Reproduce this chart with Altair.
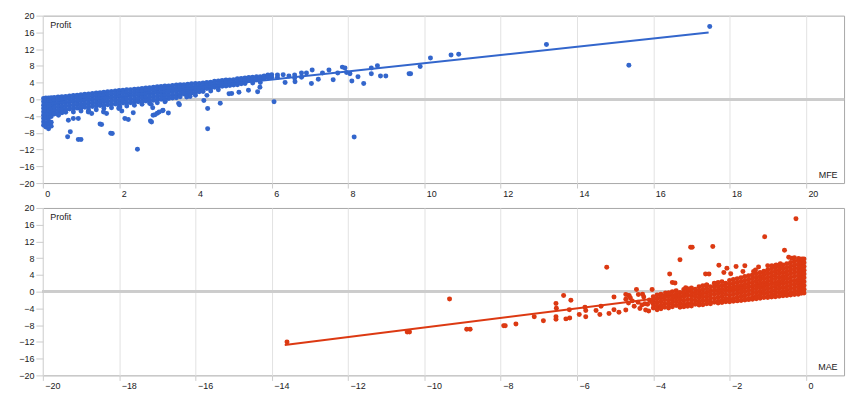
import altair as alt
import pandas as pd

# ---------------- top panel: MFE vs Profit ----------------
# dense cloud, read column by column (MFE value, list of Profit values)
mfe_cloud = [
    (0.02, [0.2, -0.6, -1.4, -2.2, -3.0, -3.8, -4.6, -5.4, -6.2]),
    (0.08, [0.3, -0.5, -1.3, -2.1, -2.9, -3.7, -4.5, -5.6, -6.6]),
    (0.15, [0.35, -0.4, -1.2, -2.0, -2.8, -3.6, -4.4, -5.2, -6.0, -7.0]),
    (0.22, [0.4, -0.5, -1.4, -2.3, -3.2, -4.1, -5.5, -6.4]),
    (0.30, [0.45, -0.3, -1.1, -1.9, -2.7, -3.5]),
    (0.40, [0.55, -0.2, -1.0, -1.8, -2.6, -3.4]),
    (0.50, [0.6, -0.1, -0.9, -1.7, -2.5, -3.2]),
    (0.60, [0.7, 0.0, -0.8, -1.6, -2.4, -3.1]),
    (0.70, [0.8, 0.1, -0.7, -1.5, -2.3]),
    (0.80, [0.9, 0.2, -0.6, -1.4, -2.2, -3.0]),
    (0.90, [1.0, 0.3, -0.5, -1.3, -2.1]),
    (1.00, [1.1, 0.4, -0.4, -1.2, -2.0, -2.8]),
    (1.10, [1.2, 0.5, -0.3, -1.1, -1.9]),
    (1.20, [1.3, 0.6, -0.2, -1.0, -1.8, -2.6]),
    (1.30, [1.4, 0.7, -0.1, -0.9, -1.7]),
    (1.40, [1.5, 0.8, 0.0, -0.8, -1.6, -2.5]),
    (1.50, [1.6, 0.9, 0.1, -0.7, -1.5]),
    (1.60, [1.7, 1.0, 0.2, -0.6, -1.4, -2.2]),
    (1.70, [1.8, 1.1, 0.3, -0.5, -1.3]),
    (1.80, [1.9, 1.2, 0.4, -0.4, -1.2, -2.0]),
    (1.90, [2.0, 1.3, 0.5, -0.3, -1.1]),
    (2.00, [2.1, 1.4, 0.6, -0.2, -1.0, -1.8]),
    (2.10, [2.2, 1.5, 0.7, -0.1, -0.9]),
    (2.20, [2.3, 1.6, 0.8, 0.0, -0.8, -1.6]),
    (2.30, [2.3, 1.6, 0.8, 0.0, -0.8]),
    (2.40, [2.4, 1.7, 0.9, 0.1, -0.7, -1.4]),
    (2.50, [2.5, 1.8, 1.0, 0.2, -0.6]),
    (2.60, [2.6, 1.9, 1.1, 0.3, -0.5, -1.2]),
    (2.70, [2.7, 2.0, 1.2, 0.4, -0.4]),
    (2.80, [2.8, 2.1, 1.3, 0.5, -0.3, -1.0]),
    (2.90, [2.9, 2.2, 1.4, 0.6, -0.2]),
    (3.00, [3.0, 2.3, 1.5, 0.7, -0.1, -0.8]),
    (3.10, [3.1, 2.4, 1.6, 0.8, 0.0]),
    (3.20, [3.2, 2.5, 1.7, 0.9, 0.1, -0.6]),
    (3.30, [3.2, 2.5, 1.7, 0.9, 0.2]),
    (3.40, [3.3, 2.6, 1.8, 1.0, 0.3]),
    (3.50, [3.4, 2.7, 1.9, 1.1, 0.4]),
    (3.60, [3.5, 2.8, 2.0, 1.2, 0.6]),
    (3.70, [3.5, 2.8, 2.0, 1.3]),
    (3.80, [3.6, 2.9, 2.1, 1.4, 0.8]),
    (3.90, [3.7, 3.0, 2.2, 1.5]),
    (4.00, [3.8, 3.1, 2.3, 1.6, 1.0]),
    (4.10, [3.8, 3.1, 2.4, 1.8]),
    (4.20, [3.9, 3.2, 2.5, 1.9]),
    (4.30, [4.0, 3.3, 2.6]),
    (4.40, [4.1, 3.4, 2.7, 2.0]),
    (4.50, [4.3, 3.6, 2.9]),
    (4.60, [4.4, 3.7, 3.0, 2.3]),
    (4.70, [4.5, 3.8, 3.1]),
    (4.80, [4.6, 3.9, 3.2]),
    (4.90, [4.6, 3.9, 3.3]),
    (5.00, [4.7, 4.0, 3.4]),
    (5.10, [4.9, 4.2, 3.5]),
    (5.20, [5.0, 4.3, 3.7]),
    (5.30, [5.1, 4.4, 3.8]),
    (5.40, [5.2, 4.5]),
    (5.50, [5.3, 4.6, 3.9]),
    (5.60, [5.4, 4.7]),
    (5.70, [5.4, 4.8]),
    (5.80, [5.6, 5.0]),
    (5.90, [5.8, 5.2]),
    (6.00, [5.9, 5.3]),
    (6.15, [5.8, 5.2]),
    (6.30, [5.9]),
    (6.45, [5.6]),
    (6.60, [5.8, 5.1]),
]
mfe_outlier_x = [17.48, 15.36, 13.2, 10.7, 10.9, 10.16, 9.89, 9.64, 9.6, 8.99, 8.85, 8.77,
                 8.61, 8.61, 8.41, 8.26, 8.1, 8.16, 8.05, 7.96, 7.85, 7.92, 7.73, 7.61, 7.5,
                 7.33, 7.22, 7.06, 7.04, 6.91, 6.78, 6.78, 6.06, 4.32, 4.32, 4.22, 4.65, 4.3,
                 4.88, 4.95, 5.14, 5.39, 5.63, 5.69, 5.7, 6.35, 6.61, 3.29, 3.15, 3.56, 3.86,
                 3.21, 3.58, 3.77, 0.72, 0.65, 0.93, 1.0, 1.54, 1.5, 1.82, 1.78, 2.48, 2.15,
                 2.24, 2.37, 2.85, 2.82, 2.89, 3.0, 3.05, 1.19, 1.28, 1.59, 1.67, 0.67, 0.8,
                 0.93, 0.41, 2.02, 2.07, 2.84, 2.88, 1.99, 2.94, 3.14]
mfe_outlier_profit = [17.4, 8.15, 13.1, 10.6, 10.76, 9.9, 7.84, 6.1, 6.1, 5.6, 5.6, 8.0,
                      7.5, 6.1, 3.8, 5.4, 4.4, -9.0, 6.1, 6.4, 7.7, 7.5, 6.3, 4.7, 7.0,
                      6.3, 4.8, 7.0, 3.8, 6.3, 6.3, 5.3, -0.55, -7.05, -2.2, -0.3, -0.95, 0.95,
                      1.35, 1.4, 1.7, 2.2, 1.8, 2.9, 4.0, 4.0, 4.2, -3.25, -2.6, -1.0, 0.7,
                      -0.4, -1.3, 0.55, -7.75, -8.95, -9.6, -9.6, -6.0, -5.9, -8.15, -8.1, -11.95, -4.6,
                      -4.8, -3.2, -5.4, -5.2, -3.8, -3.3, -3.0, -3.0, -3.4, -3.0, -3.4, -5.0, -4.6,
                      -4.6, -3.8, -1.8, -2.8, -1.2, -2.0, -2.2, -3.7, -2.7]
mfe_trend_x = [0.0, 17.45]
mfe_trend_profit = [-1.15, 15.95]

# ---------------- bottom panel: MAE vs Profit ----------------
mae_cloud = [
    (-4.00, [-1.2, -2.1, -3.0, -3.9]),
    (-3.90, [-0.8, -1.7, -2.6, -3.5, -4.3]),
    (-3.80, [-0.6, -1.5, -2.4, -3.3, -4.1]),
    (-3.70, [-1.0, -1.9, -2.8, -3.7]),
    (-3.60, [-0.3, -1.2, -2.1, -3.0, -3.9]),
    (-3.50, [0.0, -0.9, -1.8, -2.7, -3.6]),
    (-3.40, [0.2, -0.6, -1.5, -2.4, -3.3]),
    (-3.30, [-0.2, -1.1, -2.0, -2.9, -3.7]),
    (-3.20, [0.5, -0.3, -1.2, -2.1, -3.0, -3.6]),
    (-3.10, [0.7, -0.1, -1.0, -1.9, -2.8, -3.5]),
    (-3.00, [0.9, 0.0, -0.9, -1.8, -2.7, -3.4]),
    (-2.90, [0.6, -0.3, -1.2, -2.1, -3.0]),
    (-2.80, [1.2, 0.3, -0.6, -1.5, -2.4, -3.2]),
    (-2.70, [1.4, 0.5, -0.4, -1.3, -2.2, -3.1]),
    (-2.60, [1.6, 0.7, -0.2, -1.1, -2.0, -2.9]),
    (-2.50, [1.2, 0.3, -0.6, -1.5, -2.4, -2.9]),
    (-2.40, [2.0, 1.1, 0.2, -0.7, -1.6, -2.5]),
    (-2.30, [2.2, 1.3, 0.4, -0.5, -1.4, -2.3, -2.7]),
    (-2.20, [2.4, 1.5, 0.6, -0.3, -1.2, -2.1, -2.6]),
    (-2.10, [2.0, 1.1, 0.2, -0.7, -1.6, -2.4]),
    (-2.00, [2.7, 1.8, 0.9, 0.0, -0.9, -1.8, -2.4]),
    (-1.90, [2.9, 2.0, 1.1, 0.2, -0.7, -1.6, -2.3]),
    (-1.80, [3.1, 2.2, 1.3, 0.4, -0.5, -1.4, -2.2]),
    (-1.70, [3.3, 2.4, 1.5, 0.6, -0.3, -1.2, -2.1]),
    (-1.60, [3.6, 2.7, 1.8, 0.9, 0.0, -0.9, -1.8, -2.0]),
    (-1.50, [3.8, 2.9, 2.0, 1.1, 0.2, -0.7, -1.6, -1.9]),
    (-1.40, [4.0, 3.1, 2.2, 1.3, 0.4, -0.5, -1.4, -1.8]),
    (-1.30, [4.3, 3.4, 2.5, 1.6, 0.7, -0.2, -1.1, -1.7]),
    (-1.20, [4.6, 3.7, 2.8, 1.9, 1.0, 0.1, -0.8, -1.6]),
    (-1.10, [4.9, 4.0, 3.1, 2.2, 1.3, 0.4, -0.5, -1.4]),
    (-1.00, [5.2, 4.3, 3.4, 2.5, 1.6, 0.7, -0.2, -1.1, -1.4]),
    (-0.90, [5.5, 4.6, 3.7, 2.8, 1.9, 1.0, 0.1, -0.8, -1.3]),
    (-0.80, [5.8, 4.9, 4.0, 3.1, 2.2, 1.3, 0.4, -0.5, -1.2]),
    (-0.70, [6.1, 5.2, 4.3, 3.4, 2.5, 1.6, 0.7, -0.2, -1.1]),
    (-0.60, [6.4, 5.5, 4.6, 3.7, 2.8, 1.9, 1.0, 0.1, -0.8, -1.0]),
    (-0.50, [6.7, 5.8, 4.9, 4.0, 3.1, 2.2, 1.3, 0.4, -0.5, -0.9]),
    (-0.40, [7.0, 6.1, 5.2, 4.3, 3.4, 2.5, 1.6, 0.7, -0.2, -0.8]),
    (-0.30, [7.2, 6.3, 5.4, 4.5, 3.6, 2.7, 1.8, 0.9, 0.0, -0.7]),
    (-0.20, [7.4, 6.5, 5.6, 4.7, 3.8, 2.9, 2.0, 1.1, 0.2, -0.6]),
    (-0.12, [7.7, 6.8, 5.9, 5.0, 4.1, 3.2, 2.3, 1.4, 0.5, -0.4]),
    (-0.05, [7.8, 6.9, 6.0, 5.1, 4.2, 3.3, 2.4, 1.5, 0.6, -0.3]),
]
mae_outlier_x = [-1.0, -0.89, -0.78, -0.67, -0.37, -0.19, -0.1, -1.37, -1.24, -1.6, -1.65,
                 -1.83, -2.07, -2.15, -1.97, -2.28, -2.63, -2.54, -2.39, -2.6, -3.15, -3.08,
                 -3.68, -3.59, -3.5, -3.43, -3.57, -3.3, -3.02, -2.98, -2.44, -1.08, -0.56,
                 -0.26, -4.03, -4.44, -4.39, -4.65, -4.72, -4.63, -5.03, -5.22, -6.35, -6.16,
                 -6.55, -6.54, -6.55, -6.55, -6.29, -6.19, -6.2, -5.94, -5.79, -5.77, -5.77,
                 -5.5, -5.4, -5.37, -5.16, -5.03, -4.9, -4.72, -4.65, -4.72, -4.6, -4.5, -4.4,
                 -4.3, -4.2, -4.1, -7.12, -6.88, -7.6, -7.92, -7.88, -8.89, -8.8, -9.34,
                 -10.45, -10.39, -13.6, -1.32, -0.45, -0.3, -4.15, -4.25, -4.35, -4.12,
                 -4.22, -4.55, -4.28, -4.05]
mae_outlier_profit = [6.2, 6.2, 6.4, 6.65, 8.0, 7.9, 7.8, 4.8, 5.9, 6.2, 4.8,
                      6.0, 5.6, 4.6, 4.3, 6.3, 4.2, 4.2, 1.9, 1.6, 0.95, 0.5,
                      -0.3, -0.3, 2.2, 2.05, 4.2, 7.6, 10.6, 10.6, 10.8, 13.1, 9.9,
                      17.4, 0.5, 0.5, -0.7, -0.9, -0.7, -0.95, -1.27, 5.85, -0.9, -2.05,
                      -2.85, -3.95, -6.0, -6.6, -6.5, -6.3, -4.3, -5.45, -3.7, -4.5, -6.0,
                      -4.5, -5.45, -3.5, -5.2, -4.3, -4.9, -4.4, -2.7, -1.8, -1.5, -3.5, -2.5,
                      -3.2, -4.4, -2.0, -6.0, -6.97, -7.75, -8.15, -8.15, -9.0, -9.0, -1.75,
                      -9.65, -9.65, -12.0, 5.2, 8.2, 8.1, -3.0, -1.3, -4.0, -4.6,
                      -2.9, -2.2, -0.6, -2.4]
mae_trend_x = [-13.66, -0.05]
mae_trend_profit = [-12.75, 2.77]

profit_ticks = [-20, -16, -12, -8, -4, 0, 4, 8, 12, 16, 20]
mfe_ticks = [0, 2, 4, 6, 8, 10, 12, 14, 16, 18, 20]
mae_ticks = [-20, -18, -16, -14, -12, -10, -8, -6, -4, -2, 0]

BLUE = "#3366cc"
RED = "#dc3912"
W, H = 804, 168
FONT = "Arial"


def frame(cloud, ox, oy):
    xs, ys = [], []
    for cx, cys in cloud:
        for v in cys:
            xs.append(cx)
            ys.append(v)
    xs += ox
    ys += oy
    return pd.DataFrame({"x": xs, "y": ys})


def panel(df, tdf, color, xname, xdomain, xticks):
    xenc = alt.X(
        "x:Q",
        scale=alt.Scale(domain=xdomain, nice=False, zero=False),
        axis=alt.Axis(
            values=xticks, tickCount=len(xticks), title=xname, labelAlign="left",
            labelOffset=2, labelPadding=1, tickSize=5, titleX=W - 7, titleY=-9,
            titleAlign="right", titleBaseline="middle", titleAngle=0,
            labelOverlap=False,
        ),
    )
    yenc = alt.Y(
        "y:Q",
        scale=alt.Scale(domain=[-20, 20], nice=False, zero=False),
        axis=alt.Axis(
            values=profit_ticks, tickCount=len(profit_ticks), title="Profit",
            tickSize=7, labelPadding=2, titleX=7, titleY=9, titleAlign="left",
            titleBaseline="middle", titleAngle=0, labelOverlap=False,
        ),
    )
    zero = alt.Chart(df).mark_rule(color="#cccccc", strokeWidth=2).encode(y=alt.datum(0))
    pts = alt.Chart(df).mark_circle(size=25, opacity=1, color=color).encode(x=xenc, y=yenc)
    line = alt.Chart(tdf).mark_line(color=color, strokeWidth=2).encode(x=xenc, y=yenc)
    return alt.layer(zero, pts, line).properties(width=W, height=H)


top_df = frame(mfe_cloud, mfe_outlier_x, mfe_outlier_profit)
top_tr = pd.DataFrame({"x": mfe_trend_x, "y": mfe_trend_profit})
bot_df = frame(mae_cloud, mae_outlier_x, mae_outlier_profit)
bot_tr = pd.DataFrame({"x": mae_trend_x, "y": mae_trend_profit})

top = panel(top_df, top_tr, BLUE, "MFE", [0, 21], mfe_ticks)
bottom = panel(bot_df, bot_tr, RED, "MAE", [-20, 1], mae_ticks)

chart = (
    alt.vconcat(top, bottom, spacing=25)
    .properties(bounds="flush", padding={"left": 18, "top": 10, "right": 14, "bottom": 4},
                background="white")
    .configure_view(stroke="#a8a8a8", strokeWidth=1)
    .configure_axis(
        domain=False, gridColor="#e2e2e2", gridWidth=1, tickColor="#cccccc",
        labelFont=FONT, labelFontSize=9, labelColor="#222222",
        titleFont=FONT, titleFontSize=9, titleFontWeight="normal", titleColor="#222222",
    )
)

chart.save("out.html", embed_options={"renderer": "svg", "actions": False})
